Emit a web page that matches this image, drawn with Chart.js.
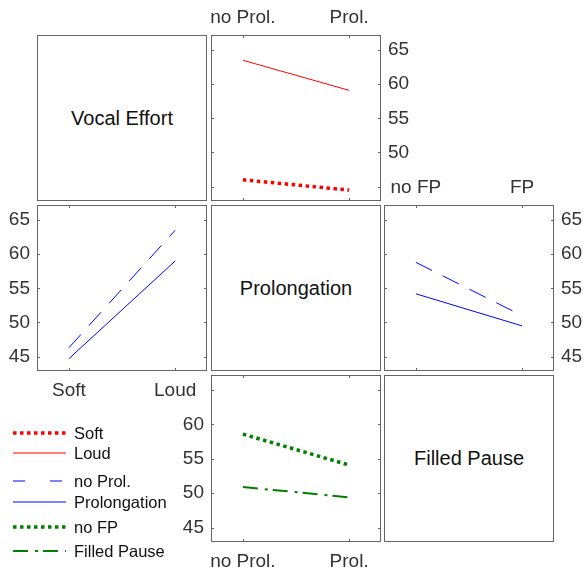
<!DOCTYPE html>
<html>
<head>
<meta charset="utf-8">
<script src="https://cdn.jsdelivr.net/npm/chart.js@4/dist/chart.umd.min.js"></script>
<style>
  body { margin: 0; background: #fff; width: 583px; height: 571px; position: relative; overflow: hidden;
         font-family: "Liberation Sans", Arial, sans-serif; }
  canvas { position: absolute; }
  .diag { position: absolute; box-sizing: border-box; border: 1px solid #666; display: flex;
          align-items: center; justify-content: center; font-size: 20px; color: #111; }
  #legend { position: absolute; left: 0; top: 400px; }
</style>
</head>
<body>
<div class="diag" style="left:37px;top:35px;width:170px;height:166px">Vocal Effort</div>
<div class="diag" style="left:211px;top:205px;width:170px;height:166px">Prolongation</div>
<div class="diag" style="left:384px;top:375px;width:170px;height:167px">Filled Pause</div>
<canvas id="r1c2"></canvas>
<canvas id="r2c1"></canvas>
<canvas id="r2c3"></canvas>
<canvas id="r3c2"></canvas>
<svg id="legend" width="200" height="171"></svg>
<script>
// factor levels
const effortLevels = ['Soft', 'Loud'];
const prolLevels = ['no Prol.', 'Prol.'];
const fpLevels = ['no FP', 'FP'];
const yTicks = [45, 50, 55, 60, 65];

// vocal effort lines, x = prolongation
const softByProl = [46.0, 44.5];
const loudByProl = [63.5, 59.1];
// prolongation lines, x = vocal effort
const noProlByEffort = [46.3, 63.5];
const prolByEffort = [44.7, 59.0];
// prolongation lines, x = filled pause
const noProlByFP = [58.8, 51.0];
const prolByFP = [54.2, 49.5];
// filled pause lines, x = prolongation
const noFPByProl = [58.6, 54.1];
const fpByProl = [50.9, 49.4];

const legendLabels = ['Soft', 'Loud', 'no Prol.', 'Prolongation', 'no FP', 'Filled Pause'];

const styles = {
    'Soft':         { color: '#ff0000', width: 3.5, dash: [3.5, 3.5], legendDash: [3.5, 3.5] },
    'Loud':         { color: '#ff0000', width: 1,   dash: [],         legendDash: [] },
    'no Prol.':     { color: '#0000ff', width: 1,   dash: [18, 12],   legendDash: [12, 25] },
    'Prolongation': { color: '#0000ff', width: 1,   dash: [],         legendDash: [] },
    'no FP':        { color: '#008000', width: 3.5, dash: [3.5, 3.5], legendDash: [3.5, 3.5] },
    'Filled Pause': { color: '#008000', width: 2,   dash: [15, 7, 3, 5], legendDash: [15, 7, 3, 5] }
};

Chart.defaults.font.family = '"Liberation Sans", Arial, sans-serif';
Chart.defaults.font.size = 19;
Chart.defaults.color = '#333';

const M = 45; // room around each box for tick labels

// box outline and inward tick marks, like the matlab axes
const boxPlugin = {
    id: 'box',
    afterDraw(chart) {
        const { ctx, chartArea: a, scales } = chart;
        ctx.save();
        ctx.strokeStyle = '#666';
        ctx.lineWidth = 1;
        ctx.beginPath();
        scales.x.ticks.forEach(t => {
            const px = Math.round(scales.x.getPixelForValue(t.value)) + 0.5;
            ctx.moveTo(px, a.top); ctx.lineTo(px, a.top + 3);
            ctx.moveTo(px, a.bottom); ctx.lineTo(px, a.bottom - 3);
        });
        scales.y.ticks.forEach(t => {
            const py = Math.round(scales.y.getPixelForValue(t.value)) + 0.5;
            ctx.moveTo(a.left, py); ctx.lineTo(a.left + 3, py);
            ctx.moveTo(a.right, py); ctx.lineTo(a.right - 3, py);
        });
        ctx.stroke();
        ctx.strokeRect(a.left + 0.5, a.top + 0.5, a.width - 1, a.height - 1);
        ctx.restore();
    }
};

function makePanel(id, box, cats, xPos, yPos, hideY, series) {
    const canvas = document.getElementById(id);
    canvas.width = box.w + 2 * M;
    canvas.height = box.h + 2 * M;
    canvas.style.left = (box.l - M) + 'px';
    canvas.style.top = (box.t - M) + 'px';

    const datasets = series.map(s => {
        const st = styles[s.name];
        return {
            label: s.name,
            data: s.values.map((v, i) => ({ x: i + 1, y: v })),
            borderColor: st.color,
            borderWidth: st.width,
            borderDash: st.dash,
            borderCapStyle: 'butt',
            pointRadius: 0,
            tension: 0
        };
    });

    new Chart(canvas, {
        type: 'line',
        data: { datasets },
        options: {
            responsive: false,
            animation: false,
            layout: {
                padding: {
                    left: yPos === 'left' ? 0 : M,
                    right: yPos === 'right' ? 0 : M,
                    top: xPos === 'top' ? 0 : M,
                    bottom: xPos === 'bottom' ? 0 : M
                }
            },
            plugins: { legend: { display: false }, tooltip: { enabled: false } },
            scales: {
                x: {
                    type: 'linear',
                    position: xPos,
                    min: 0.7,
                    max: 2.3,
                    afterBuildTicks: s => { s.ticks = cats.map((c, i) => ({ value: i + 1 })); },
                    afterFit: s => { s.height = M; },
                    grid: { display: false, drawTicks: false },
                    border: { display: false },
                    ticks: {
                        padding: xPos === 'top' ? 6 : 8,
                        maxRotation: 0,
                        autoSkip: false,
                        callback: (v, i) => cats[i]
                    }
                },
                y: {
                    position: yPos,
                    min: 42.9,
                    max: 67.2,
                    afterBuildTicks: s => { s.ticks = yTicks.map(v => ({ value: v })); },
                    afterFit: s => { s.width = M; },
                    grid: { display: false, drawTicks: false },
                    border: { display: false },
                    ticks: {
                        padding: 7,
                        autoSkip: false,
                        callback: v => hideY.includes(v) ? '' : v
                    }
                }
            }
        },
        plugins: [boxPlugin]
    });
}

makePanel('r1c2', { l: 211, t: 35, w: 170, h: 166 }, prolLevels, 'top', 'right', [45],
    [{ name: 'Soft', values: softByProl }, { name: 'Loud', values: loudByProl }]);
makePanel('r2c1', { l: 37, t: 205, w: 170, h: 166 }, effortLevels, 'bottom', 'left', [],
    [{ name: 'no Prol.', values: noProlByEffort }, { name: 'Prolongation', values: prolByEffort }]);
makePanel('r2c3', { l: 384, t: 205, w: 170, h: 166 }, fpLevels, 'top', 'right', [],
    [{ name: 'no Prol.', values: noProlByFP }, { name: 'Prolongation', values: prolByFP }]);
makePanel('r3c2', { l: 211, t: 375, w: 170, h: 167 }, prolLevels, 'bottom', 'left', [65],
    [{ name: 'no FP', values: noFPByProl }, { name: 'Filled Pause', values: fpByProl }]);

// legend in the empty bottom-left cell
const legendRows = [33, 53, 81, 102, 127, 151];
const svg = document.getElementById('legend');
const NS = 'http://www.w3.org/2000/svg';
legendLabels.forEach((name, i) => {
    const st = styles[name];
    const line = document.createElementNS(NS, 'line');
    line.setAttribute('x1', 13);
    line.setAttribute('x2', 66);
    line.setAttribute('y1', legendRows[i]);
    line.setAttribute('y2', legendRows[i]);
    line.setAttribute('stroke', st.color);
    line.setAttribute('stroke-width', st.width);
    if (st.legendDash.length) line.setAttribute('stroke-dasharray', st.legendDash.join(' '));
    svg.appendChild(line);
    const text = document.createElementNS(NS, 'text');
    text.setAttribute('x', 74);
    text.setAttribute('y', legendRows[i]);
    text.setAttribute('dominant-baseline', 'central');
    text.setAttribute('font-size', '16.5');
    text.setAttribute('fill', '#111');
    text.textContent = name;
    svg.appendChild(text);
});
</script>
</body>
</html>
